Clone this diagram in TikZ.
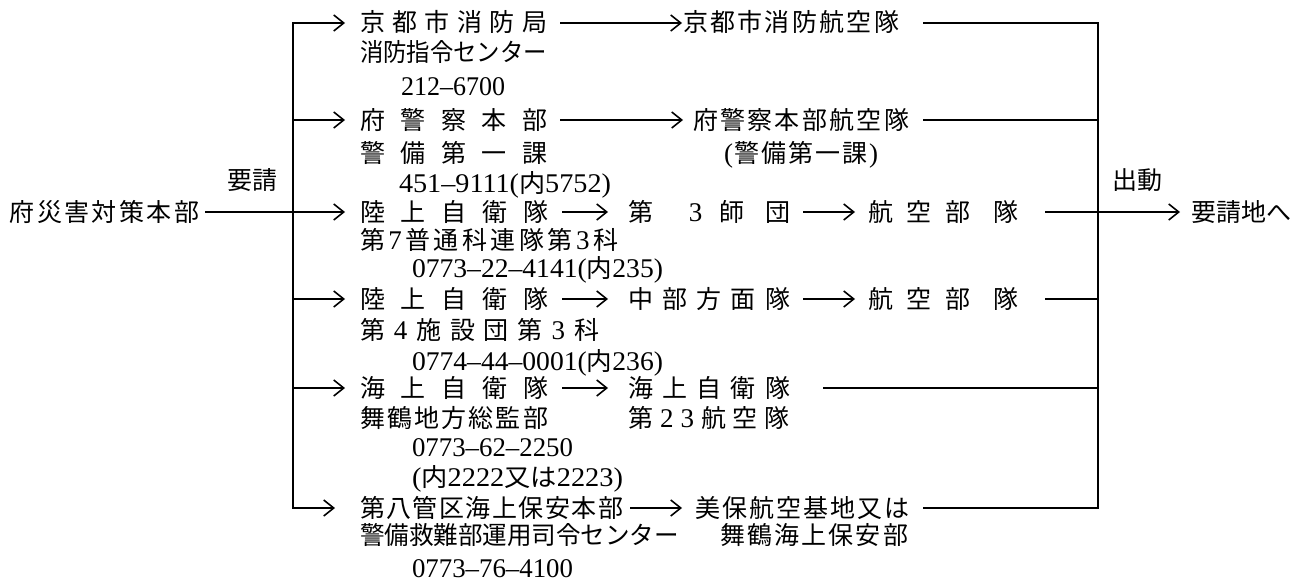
\documentclass[tikz,border=0pt]{standalone}
\usepackage{fontspec}
\usepackage{graphicx}
\setmainfont{Noto Sans CJK JP}
\newfontfamily\dg[Scale=1.08]{Liberation Serif}
\usetikzlibrary{arrows.meta,calc}
\newcommand\sprd[2]{\makebox[#1][s]{#2}}
\newcommand\fitw[2]{\resizebox{#1}{\height}{#2}}
\tikzset{
  txt/.style={inner sep=0pt, outer sep=0pt, anchor=base west, font=\fontsize{12.5pt}{15pt}\selectfont},
  ln/.style={line width=0.8pt, line join=miter},
  arr/.style={ln, -{Straight Barb[length=5pt,width=8pt,line width=0.8pt]}},
}
\begin{document}
\begin{tikzpicture}[x=0.5pt,y=-0.5pt]
\fill[white] (0,0) rectangle (1299,583);
\useasboundingbox (0,0) rectangle (1299,583);

% left / right labels
\node[txt] (fu) at (10,221) {\sprd{94.5pt}{府\hfill 災\hfill 害\hfill 対\hfill 策\hfill 本\hfill 部}};
\node[txt] (yo) at (227,189) {要請};
\node[txt] (sh) at (1112,189) {出動};
\node[txt] (goal) at (1191,221) {要請地へ};

% row A
\node[txt] (a1) at (360,32) {\sprd{93.5pt}{京\hfill 都\hfill 市\hfill 消\hfill 防\hfill 局}};
\node[txt] (a1b) at (360,62) {\fitw{93.5pt}{消防指令センター}};
\node[txt] (a1c) at (401,95) {\fitw{52pt}{\dg 212–6700}};
\node[txt] (a2) at (683,32) {\sprd{108pt}{京\hfill 都\hfill 市\hfill 消\hfill 防\hfill 航\hfill 空\hfill 隊}};

% row B
\node[txt] (b1) at (360,129) {\sprd{93.5pt}{府\hfill 警\hfill 察\hfill 本\hfill 部}};
\node[txt] (b1b) at (360,162) {\sprd{93.5pt}{警\hfill 備\hfill 第\hfill 一\hfill 課}};
\node[txt] (b1c) at (399,192) {\fitw{106pt}{{\dg 451–9111(}内{\dg 5752)}}};
\node[txt] (b2) at (693,129) {\sprd{108pt}{府\hfill 警\hfill 察\hfill 本\hfill 部\hfill 航\hfill 空\hfill 隊}};
\node[txt] (b2b) at (724,162) {\sprd{77pt}{{\dg (}\hfill 警\hfill 備\hfill 第\hfill 一\hfill 課\hfill{\dg )}}};

% row C
\node[txt] (c1) at (360,221) {\sprd{94pt}{陸\hfill 上\hfill 自\hfill 衛\hfill 隊}};
\node[txt] (c1b) at (360,249) {\sprd{129pt}{第\hfill{\dg 7}\hfill 普\hfill 通\hfill 科\hfill 連\hfill 隊\hfill 第\hfill{\dg 3}\hfill 科}};
\node[txt] (c1c) at (412,277) {\fitw{125.5pt}{{\dg 0773–22–4141(}内{\dg 235)}}};
\node[txt] (c2) at (628,221) {\sprd{81pt}{第\hspace{\stretch{2.1}}{\dg 3}\hspace{\stretch{1}}師\hspace{\stretch{1.2}}団}};
\node[txt] (c3) at (868,221) {\sprd{75pt}{航\hfill 空\hfill 部\hspace{\stretch{1.6}}隊}};

% row D
\node[txt] (d1) at (360,308) {\sprd{94pt}{陸\hfill 上\hfill 自\hfill 衛\hfill 隊}};
\node[txt] (d1b) at (360,339) {\sprd{119.5pt}{第\hfill{\dg 4}\hfill 施\hfill 設\hfill 団\hfill 第\hfill{\dg 3}\hfill 科}};
\node[txt] (d1c) at (412,370) {\fitw{125.5pt}{{\dg 0774–44–0001(}内{\dg 236)}}};
\node[txt] (d2) at (628,308) {\sprd{81pt}{中\hfill 部\hfill 方\hfill 面\hfill 隊}};
\node[txt] (d3) at (868,308) {\sprd{75pt}{航\hfill 空\hfill 部\hspace{\stretch{1.6}}隊}};

% row E
\node[txt] (e1) at (360,397) {\sprd{94pt}{海\hfill 上\hfill 自\hfill 衛\hfill 隊}};
\node[txt] (e1b) at (360,427) {\sprd{94pt}{舞\hfill 鶴\hfill 地\hfill 方\hfill 総\hfill 監\hfill 部}};
\node[txt] (e1c) at (412,456) {\fitw{80.5pt}{\dg 0773–62–2250}};
\node[txt] (e1d) at (412,486) {\fitw{105.5pt}{{\dg (}内{\dg 2222}又は{\dg 2223)}}};
\node[txt] (e2) at (628,397) {\sprd{81pt}{海\hfill 上\hfill 自\hfill 衛\hfill 隊}};
\node[txt] (e2b) at (628,427) {\sprd{81pt}{第\hfill{\dg 2}\hfill{\dg 3}\hfill 航\hfill 空\hfill 隊}};

% row F
\node[txt] (f1) at (360,517) {\sprd{131.5pt}{第\hfill 八\hfill 管\hfill 区\hfill 海\hfill 上\hfill 保\hfill 安\hfill 本\hfill 部}};
\node[txt] (f1b) at (360,544) {\fitw{159.5pt}{警備救難部運用司令センター}};
\node[txt] (f1c) at (412,577) {\fitw{80.5pt}{\dg 0773–76–4100}};
\node[txt] (f2) at (695,517) {\sprd{107pt}{美\hfill 保\hfill 航\hfill 空\hfill 基\hfill 地\hfill 又\hfill は}};
\node[txt] (f2b) at (720,544) {\sprd{94pt}{舞\hfill 鶴\hfill 海\hfill 上\hfill 保\hfill 安\hfill 部}};

% junctions
\coordinate (LA) at (293,23);  \coordinate (LB) at (293,120);
\coordinate (LC) at (293,212); \coordinate (LD) at (293,299);
\coordinate (LE) at (293,388); \coordinate (LF) at (293,508);
\coordinate (RA) at (1098,23);  \coordinate (RB) at (1098,120);
\coordinate (RC) at (1098,212); \coordinate (RD) at (1098,299);
\coordinate (RE) at (1098,388); \coordinate (RF) at (1098,508);

% left trunk and branches
\draw[arr] (LF) -- (LA) -- ($(LA -| a1.west)+(-15,0)$);
\draw[arr] (LA) -- (LF) -- ($(LF -| f1.west)+(-25,0)$);
\draw[arr] (LB) -- ($(LB -| b1.west)+(-15,0)$);
\draw[arr] ($(LC -| fu.east)+(6,0)$) -- ($(LC -| c1.west)+(-15,0)$);
\draw[arr] (LD) -- ($(LD -| d1.west)+(-15,0)$);
\draw[arr] (LE) -- ($(LE -| e1.west)+(-15,0)$);

% middle arrows
\draw[arr] ($(LA -| a1.east)+(13,0)$) -- ($(LA -| a2.west)+(-1,0)$);
\draw[arr] ($(LB -| b1.east)+(13,0)$) -- ($(LB -| b2.west)+(-10,0)$);
\draw[arr] ($(LC -| c1.east)+(14,0)$) -- ($(LC -| c2.west)+(-20,0)$);
\draw[arr] ($(LC -| c2.east)+(13,0)$) -- ($(LC -| c3.west)+(-13,0)$);
\draw[arr] ($(LD -| d1.east)+(14,0)$) -- ($(LD -| d2.west)+(-20,0)$);
\draw[arr] ($(LD -| d2.east)+(13,0)$) -- ($(LD -| d3.west)+(-13,0)$);
\draw[arr] ($(LE -| e1.east)+(14,0)$) -- ($(LE -| e2.west)+(-20,0)$);
\draw[arr] ($(LF -| f1.east)+(7,0)$) -- ($(LF -| f2.west)+(-13,0)$);

% right trunk and branches
\draw[ln] ($(RA -| a2.east)+(24,0)$) -- (RA) -- (RF) -- ($(RF -| f2.east)+(14,0)$);
\draw[ln] ($(RB -| b2.east)+(14,0)$) -- (RB);
\draw[arr] ($(RC -| c3.east)+(27,0)$) -- ($(RC -| goal.west)+(-11,0)$);
\draw[ln] ($(RD -| d3.east)+(27,0)$) -- (RD);
\draw[ln] ($(RE -| e2.east)+(33,0)$) -- (RE);
\end{tikzpicture}
\end{document}
